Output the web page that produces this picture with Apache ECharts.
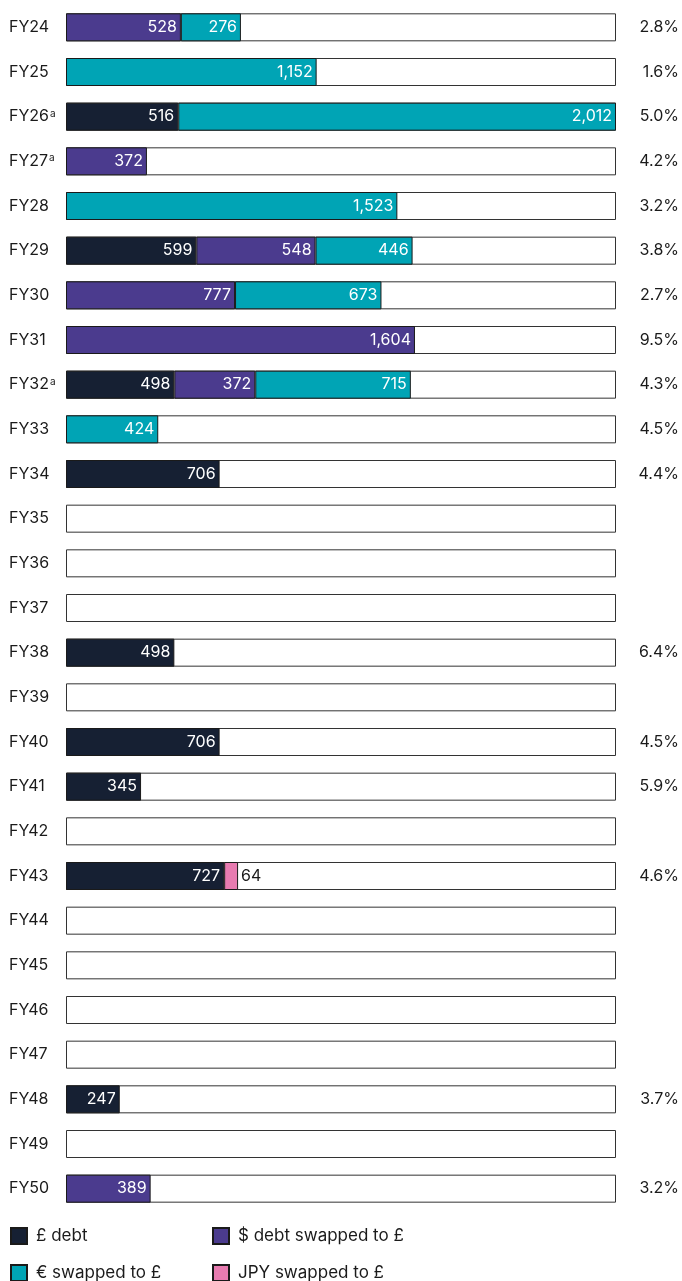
<!DOCTYPE html>
<html>
<head>
<meta charset="utf-8">
<script src="https://cdn.jsdelivr.net/npm/echarts@6/dist/echarts.min.js"></script>
<style>
  html, body { margin: 0; padding: 0; background: #fff; }
  #chart { width: 682px; height: 1281px; }
</style>
</head>
<body>
<div id="chart"></div>
<script>
// Maturity years (a = footnote marker)
const years = ['FY24','FY25','FY26','FY27','FY28','FY29','FY30','FY31','FY32','FY33','FY34','FY35','FY36','FY37',
  'FY38','FY39','FY40','FY41','FY42','FY43','FY44','FY45','FY46','FY47','FY48','FY49','FY50'];
const footnoted = ['FY26','FY27','FY32'];

// Amounts maturing (£m)
const gbpDebt   = [0,0,516,0,0,599,0,0,498,0,706,0,0,0,498,0,706,345,0,727,0,0,0,0,247,0,0];
const usdDebt   = [528,0,0,372,0,548,777,1604,372,0,0,0,0,0,0,0,0,0,0,0,0,0,0,0,0,0,389];
const eurDebt   = [276,1152,2012,0,1523,446,673,0,715,424,0,0,0,0,0,0,0,0,0,0,0,0,0,0,0,0,0];
const jpyDebt   = [0,0,0,0,0,0,0,0,0,0,0,0,0,0,0,0,0,0,0,64,0,0,0,0,0,0,0];

// Average interest rate per year (%)
const rates = ['2.8%','1.6%','5.0%','4.2%','3.2%','3.8%','2.7%','9.5%','4.3%','4.5%','4.4%','','','',
  '6.4%','','4.5%','5.9%','','4.6%','','','','','3.7%','','3.2%'];

const seriesNames = ['£ debt', '$ debt swapped to £', '€ swapped to £', 'JPY swapped to £'];
const colors = ['#162033', '#4b3b8e', '#00a4b5', '#e77bb0'];

const totals = years.map((_, i) => gbpDebt[i] + usdDebt[i] + eurDebt[i] + jpyDebt[i]);
const axisMax = Math.max(...totals);

const FONT = 'Inter, "Noto Sans", sans-serif';
const BAR_W = 28;
const fmt = v => v ? v.toLocaleString('en-GB') : '';

function stackSeries(name, data, color, outside) {
  return {
    name: name,
    type: 'bar',
    stack: 'debt',
    barWidth: BAR_W,
    z: 3,
    data: data.map(v => v || null),
    itemStyle: { color: color, borderColor: '#1a1a1a', borderWidth: 1 },
    label: {
      show: true,
      position: outside ? 'right' : 'insideRight',
      distance: outside ? 3 : 4,
      color: outside ? '#1a1a1a' : '#ffffff',
      fontFamily: FONT,
      fontSize: 16,
      formatter: p => fmt(p.value)
    }
  };
}

// One legend block per entry, laid out in a 2x2 arrangement
const legendSlots = [[10, 1227], [212, 1227], [10, 1264], [212, 1264]];
const legends = seriesNames.map((name, i) => ({
  data: [name], left: legendSlots[i][0], top: legendSlots[i][1],
  itemWidth: 16, itemHeight: 16, itemGap: 6, icon: 'rect', padding: 0,
  textStyle: { fontFamily: FONT, fontSize: 17, color: '#1a1a1a', padding: [0, 0, 0, 4] }
}));

const chart = echarts.init(document.getElementById('chart'), null, { renderer: 'canvas' });
chart.setOption({
  backgroundColor: '#ffffff',
  animation: false,
  grid: { left: 66, right: 65, top: 5, bottom: 70, containLabel: false },
  xAxis: { type: 'value', min: 0, max: axisMax, show: false },
  yAxis: [
    {
      type: 'category', data: years, inverse: true,
      axisLine: { show: false }, axisTick: { show: false },
      axisLabel: {
        align: 'left', margin: 57, color: '#1a1a1a', fontFamily: FONT, fontSize: 16,
        formatter: v => footnoted.includes(v) ? '{n|' + v + '}{s|a}' : '{n|' + v + '}',
        rich: {
          n: { fontFamily: FONT, fontSize: 16, color: '#1a1a1a' },
          s: { fontFamily: FONT, fontSize: 10, color: '#1a1a1a', verticalAlign: 'top', padding: [0, 0, 6, 1] }
        }
      }
    },
    {
      type: 'category', data: years, inverse: true, position: 'right',
      axisLine: { show: false }, axisTick: { show: false },
      axisLabel: {
        align: 'right', margin: 63, color: '#1a1a1a', fontFamily: FONT, fontSize: 16,
        formatter: (v, i) => rates[i]
      }
    }
  ],
  legend: legends,
  series: [
    {
      name: 'track', type: 'bar', barWidth: BAR_W, barGap: '-100%', z: 1, silent: true,
      data: years.map(() => axisMax),
      itemStyle: { color: '#ffffff', borderColor: '#333333', borderWidth: 1 },
      label: { show: false }
    },
    stackSeries(seriesNames[0], gbpDebt, colors[0], false),
    stackSeries(seriesNames[1], usdDebt, colors[1], false),
    stackSeries(seriesNames[2], eurDebt, colors[2], false),
    stackSeries(seriesNames[3], jpyDebt, colors[3], true)
  ]
});
</script>
</body>
</html>
